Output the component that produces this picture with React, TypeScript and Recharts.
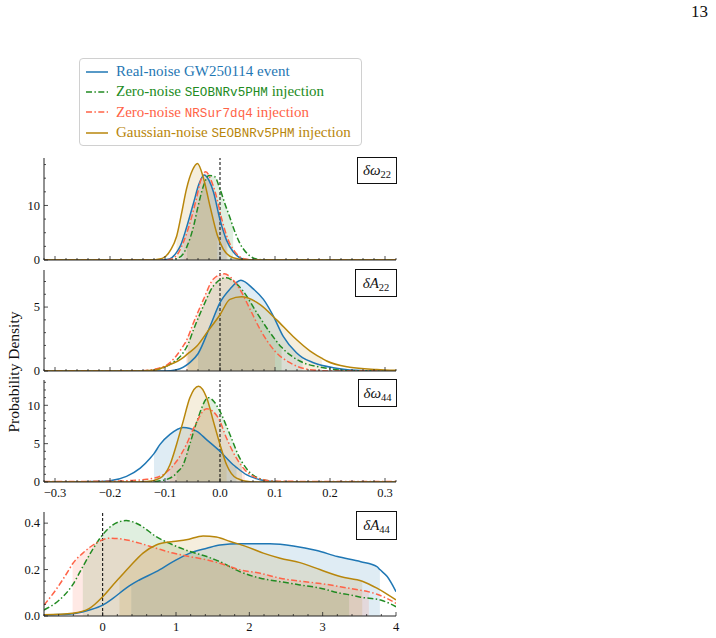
import React from "react"
import { Area, ComposedChart, Line, ReferenceLine, XAxis, YAxis } from "recharts"

type Pt = [number, number]

// ---- δω22 ----
const w22Blue: Pt[] = [[-0.32, 0], [-0.11, 0], [-0.092, 0.2], [-0.079, 1.4], [-0.072, 2.6], [-0.061, 5.9], [-0.048, 10.5], [-0.038, 14.0], [-0.029, 15.6], [-0.02, 14.6], [-0.012, 12.5], [0.0, 7.4], [0.012, 3.6], [0.024, 1.5], [0.042, 0.2], [0.06, 0], [0.32, 0]]
const w22Green: Pt[] = [[-0.32, 0], [-0.09, 0], [-0.078, 0.3], [-0.067, 1.1], [-0.06, 2.5], [-0.048, 6.2], [-0.04, 9.8], [-0.03, 13.6], [-0.02, 15.5], [-0.01, 15.3], [0.0, 13.0], [0.01, 10.0], [0.018, 7.8], [0.024, 6.0], [0.036, 3.1], [0.055, 0.7], [0.07, 0.1], [0.085, 0], [0.32, 0]]
const w22Red: Pt[] = [[-0.32, 0], [-0.1, 0], [-0.088, 0.2], [-0.075, 1.4], [-0.066, 3.4], [-0.057, 6.0], [-0.044, 10.8], [-0.035, 14.6], [-0.026, 16.2], [-0.017, 14.8], [-0.008, 12.2], [0.004, 7.2], [0.014, 3.9], [0.028, 1.4], [0.045, 0.2], [0.065, 0], [0.32, 0]]
const w22Gold: Pt[] = [[-0.32, 0], [-0.13, 0], [-0.105, 0.3], [-0.09, 1.8], [-0.079, 4.3], [-0.07, 8.5], [-0.061, 13.0], [-0.05, 16.5], [-0.041, 17.7], [-0.03, 15.0], [-0.018, 9.8], [-0.005, 4.6], [0.006, 2.0], [0.024, 0.4], [0.045, 0.05], [0.06, 0], [0.32, 0]]
const w22Ci = [[-0.072, 0.012], [-0.06, 0.024], [-0.066, 0.014], [-0.079, -0.005]]

// ---- δA22 ----
const a22Blue: Pt[] = [[-0.32, 0], [-0.1, 0], [-0.079, 0.1], [-0.055, 0.65], [-0.04, 1.35], [-0.018, 3.5], [0.0, 5.35], [0.018, 6.4], [0.038, 7.1], [0.061, 6.4], [0.079, 5.6], [0.097, 4.3], [0.115, 2.7], [0.139, 1.43], [0.15, 1.05], [0.17, 0.65], [0.206, 0.26], [0.248, 0.05], [0.28, 0], [0.32, 0]]
const a22Green: Pt[] = [[-0.32, 0], [-0.15, 0], [-0.115, 0.13], [-0.091, 0.52], [-0.067, 1.43], [-0.058, 2.1], [-0.048, 3.25], [-0.03, 5.1], [-0.012, 6.65], [0.012, 7.3], [0.025, 7.0], [0.042, 6.25], [0.067, 4.55], [0.091, 3.0], [0.112, 1.85], [0.145, 0.78], [0.188, 0.26], [0.224, 0.05], [0.26, 0], [0.32, 0]]
const a22Red: Pt[] = [[-0.32, 0], [-0.15, 0], [-0.115, 0.18], [-0.091, 0.65], [-0.067, 1.95], [-0.062, 2.3], [-0.048, 3.8], [-0.03, 5.6], [-0.012, 7.2], [0.008, 7.6], [0.02, 7.3], [0.036, 6.4], [0.055, 4.8], [0.073, 3.25], [0.1, 1.55], [0.127, 0.65], [0.164, 0.1], [0.2, 0], [0.32, 0]]
const a22Gold: Pt[] = [[-0.32, 0], [-0.15, 0], [-0.121, 0.05], [-0.097, 0.39], [-0.067, 1.04], [-0.06, 1.3], [-0.042, 1.95], [-0.024, 3.0], [0.0, 4.4], [0.018, 5.6], [0.039, 5.8], [0.073, 5.2], [0.103, 4.0], [0.133, 2.7], [0.164, 1.56], [0.185, 1.0], [0.194, 0.78], [0.236, 0.3], [0.285, 0.12], [0.32, 0.05]]
const a22Ci = [[-0.04, 0.15], [-0.058, 0.112], [-0.062, 0.1], [-0.06, 0.185]]

// ---- δω44 ----
const w44Blue: Pt[] = [[-0.32, 0], [-0.26, 0], [-0.23, 0.05], [-0.2, 0.17], [-0.17, 0.74], [-0.145, 1.8], [-0.127, 3.1], [-0.12, 3.7], [-0.109, 4.9], [-0.091, 6.2], [-0.067, 7.1], [-0.042, 6.6], [-0.024, 5.5], [0.0, 4.0], [0.024, 2.25], [0.03, 1.9], [0.048, 0.95], [0.073, 0.3], [0.097, 0.05], [0.12, 0], [0.32, 0]]
const w44Green: Pt[] = [[-0.32, 0], [-0.13, 0], [-0.109, 0.15], [-0.085, 0.74], [-0.079, 1.2], [-0.067, 2.25], [-0.055, 4.9], [-0.042, 7.9], [-0.021, 11.0], [-0.01, 10.4], [0.0, 9.2], [0.018, 6.2], [0.036, 3.1], [0.04, 2.6], [0.055, 1.2], [0.079, 0.3], [0.103, 0.05], [0.12, 0], [0.32, 0]]
const w44Red: Pt[] = [[-0.32, 0.08], [-0.25, 0.08], [-0.2, 0.1], [-0.16, 0.2], [-0.133, 0.35], [-0.103, 0.95], [-0.097, 1.3], [-0.079, 2.7], [-0.061, 4.9], [-0.048, 7.0], [-0.024, 9.55], [-0.003, 8.35], [0.012, 5.7], [0.03, 3.1], [0.045, 1.6], [0.073, 0.4], [0.103, 0.1], [0.15, 0.08], [0.32, 0.08]]
const w44Gold: Pt[] = [[-0.32, 0], [-0.15, 0], [-0.133, 0.05], [-0.109, 0.5], [-0.091, 2.25], [-0.079, 4.9], [-0.067, 7.9], [-0.055, 10.95], [-0.039, 12.5], [-0.024, 10.95], [-0.012, 7.9], [0.0, 4.9], [0.012, 2.25], [0.03, 0.5], [0.055, 0.03], [0.07, 0], [0.32, 0]]
const w44Ci = [[-0.12, 0.03], [-0.079, 0.04], [-0.097, 0.045], [-0.091, 0.012]]

// ---- δA44 ----
const a44Blue: Pt[] = [[-0.8, 0.005], [-0.59, 0.006], [-0.36, 0.012], [-0.18, 0.026], [0, 0.047], [0.14, 0.076], [0.32, 0.12], [0.39, 0.135], [0.5, 0.155], [0.73, 0.191], [0.96, 0.234], [1.19, 0.271], [1.42, 0.292], [1.6, 0.306], [1.87, 0.311], [2.28, 0.311], [2.6, 0.302], [2.92, 0.282], [3.2, 0.256], [3.52, 0.234], [3.74, 0.213], [3.78, 0.2], [3.88, 0.17], [4.0, 0.105]]
const a44Green: Pt[] = [[-0.8, 0.026], [-0.59, 0.069], [-0.41, 0.134], [-0.27, 0.213], [-0.14, 0.285], [0, 0.35], [0.14, 0.393], [0.32, 0.411], [0.5, 0.393], [0.73, 0.342], [0.96, 0.306], [1.19, 0.278], [1.42, 0.256], [1.6, 0.234], [1.87, 0.191], [2.15, 0.163], [2.42, 0.148], [2.69, 0.134], [2.97, 0.12], [3.24, 0.098], [3.36, 0.092], [3.52, 0.081], [3.79, 0.069], [4.0, 0.04]]
const a44Red: Pt[] = [[-0.8, 0.047], [-0.64, 0.112], [-0.46, 0.199], [-0.41, 0.225], [-0.27, 0.271], [-0.09, 0.314], [0.09, 0.335], [0.27, 0.331], [0.5, 0.314], [0.73, 0.292], [0.96, 0.271], [1.19, 0.256], [1.42, 0.242], [1.6, 0.227], [1.87, 0.199], [2.15, 0.184], [2.42, 0.163], [2.69, 0.15], [2.97, 0.14], [3.24, 0.126], [3.52, 0.111], [3.63, 0.104], [3.74, 0.094], [4.0, 0.055]]
const a44Gold: Pt[] = [[-0.8, 0.005], [-0.41, 0.012], [-0.18, 0.033], [0, 0.083], [0.18, 0.148], [0.23, 0.165], [0.37, 0.213], [0.55, 0.271], [0.73, 0.306], [0.96, 0.321], [1.14, 0.328], [1.37, 0.345], [1.55, 0.34], [1.74, 0.321], [1.96, 0.299], [2.19, 0.271], [2.42, 0.249], [2.69, 0.23], [2.97, 0.199], [3.24, 0.17], [3.54, 0.15], [3.74, 0.12], [4.0, 0.069]]
const a44Ci = [[0.39, 3.78], [-0.27, 3.36], [-0.41, 3.63], [0.23, 3.54]]

const SMALL_X_TICKS = [-0.3, -0.2, -0.1, 0, 0.1, 0.2, 0.3]
const A44_X_TICKS = [0, 1, 2, 3, 4]

const SERIES = [
  { name: "Real-noise", color: "#1f77b4", dash: undefined as string | undefined },
  { name: "Zero-noise SEOBNRv5PHM", color: "#228b22", dash: "6 2.4 1.5 2.4" },
  { name: "Zero-noise NRSur7dq4", color: "#ff6347", dash: "6 2.4 1.5 2.4" },
  { name: "Gaussian-noise SEOBNRv5PHM", color: "#b8860b", dash: undefined as string | undefined },
]

const SERIF = "'Liberation Serif', 'Times New Roman', serif"
const MONO = "'Liberation Mono', 'DejaVu Sans Mono', monospace"
const INK = "#222"

const steps = (d: number[], step: number) => {
  const out: number[] = []
  const a = Math.ceil(d[0] / step - 1e-9)
  const b = Math.floor(d[1] / step + 1e-9)
  for (let i = a; i <= b; i++) out.push(+(i * step).toFixed(6))
  return out
}

const fmtMinus = (digits: number) => (v: number) => {
  const s = Math.abs(v) < 1e-9 ? (0).toFixed(digits) : v.toFixed(digits)
  return s.replace("-", "\u2212")
}

function makeTick(side: string, majors: number[], fmt?: (v: number) => string) {
  return (props: any) => {
    const { x, y, payload } = props
    const v = payload.value
    const major = majors.some((m) => Math.abs(m - v) < 1e-6)
    const len = major ? 4 : 2
    let x2 = x
    let y2 = y
    if (side === "bottom") y2 = y - len
    if (side === "top") y2 = y + len
    if (side === "left") x2 = x + len
    if (side === "right") x2 = x - len
    const txt = { fontFamily: SERIF, fontSize: 12.5 }
    let label = null
    if (fmt && major) {
      label =
        side === "bottom" ? (
          <text x={x} y={y + 15} textAnchor="middle" style={txt} fill="#111">
            {fmt(v)}
          </text>
        ) : (
          <text x={x - 4} y={y + 4.3} textAnchor="end" style={txt} fill="#111">
            {fmt(v)}
          </text>
        )
    }
    return (
      <g>
        <line x1={x} y1={y} x2={x2} y2={y2} stroke={INK} strokeWidth={0.8} />
        {label}
      </g>
    )
  }
}

type PanelProps = {
  top: number
  bottom: number
  xDomain: number[]
  yDomain: number[]
  xMajors: number[]
  xMinor: number
  yMajors: number[]
  yMinor: number
  xFmt?: (v: number) => string
  yFmt: (v: number) => string
  curves: Pt[][]
  cis: number[][]
  label: React.ReactNode
  box: { left: number; top: number; width: number; height: number }
}

function Panel(p: PanelProps) {
  const h = p.bottom - p.top
  const xt = steps(p.xDomain, p.xMinor)
  const yt = steps(p.yDomain, p.yMinor)
  const axisLine = { stroke: INK, strokeWidth: 1 }
  const toObj = (pts: Pt[]) => pts.map(([x, y]) => ({ x, y }))
  return (
    <>
      <div style={{ position: "absolute", left: 0, top: p.top - 2 }}>
        <ComposedChart width={400} height={h + 24} margin={{ top: 2, right: 4, bottom: 0, left: 0 }}>
          <XAxis xAxisId="b" type="number" dataKey="x" domain={p.xDomain} allowDataOverflow ticks={xt} interval={0}
            tickSize={0} tickMargin={0} tickLine={false} axisLine={axisLine} height={22}
            tick={makeTick("bottom", p.xMajors, p.xFmt)} />
          <XAxis xAxisId="t" orientation="top" type="number" dataKey="x" domain={p.xDomain} allowDataOverflow ticks={xt}
            interval={0} tickSize={0} tickMargin={0} tickLine={false} axisLine={axisLine} height={0}
            tick={makeTick("top", p.xMajors)} />
          <YAxis yAxisId="l" type="number" domain={p.yDomain} allowDataOverflow ticks={yt} interval={0}
            tickSize={0} tickMargin={0} tickLine={false} axisLine={axisLine} width={44}
            tick={makeTick("left", p.yMajors, p.yFmt)} />
          <YAxis yAxisId="r" orientation="right" type="number" domain={p.yDomain} allowDataOverflow ticks={yt}
            interval={0} tickSize={0} tickMargin={0} tickLine={false} axisLine={axisLine} width={0}
            tick={makeTick("right", p.yMajors)} />
          {p.curves.map((pts, i) => (
            <Area key={"a" + i} xAxisId="b" yAxisId="l" type="monotone" dataKey="y"
              data={toObj(pts.filter(([x]) => x >= p.cis[i][0] - 1e-9 && x <= p.cis[i][1] + 1e-9))}
              stroke="none" fill={SERIES[i].color} fillOpacity={0.14} isAnimationActive={false} />
          ))}
          <ReferenceLine xAxisId="b" yAxisId="l" x={0} stroke="#000" strokeWidth={1} strokeDasharray="3 2" />
          {p.curves.map((pts, i) => (
            <Line key={"l" + i} xAxisId="b" yAxisId="l" type="monotone" dataKey="y" data={toObj(pts)}
              stroke={SERIES[i].color} strokeWidth={1.5} strokeDasharray={SERIES[i].dash} dot={false}
              activeDot={false} isAnimationActive={false} />
          ))}
        </ComposedChart>
      </div>
      <div style={{
        position: "absolute", left: p.box.left, top: p.box.top, width: p.box.width, height: p.box.height,
        boxSizing: "border-box", border: "1.2px solid #111", background: "#fff", display: "flex",
        alignItems: "center", justifyContent: "center", fontFamily: SERIF, fontSize: 15, color: "#111",
      }}>
        {p.label}
      </div>
    </>
  )
}

const Lab = ({ sym, sub }: { sym: string; sub: string }) => (
  <span>
    <i>{sym}</i>
    <span style={{ fontSize: 10.5, position: "relative", top: 3 }}>{sub}</span>
  </span>
)

const legendRows = [
  { pre: "Real-noise GW250114 event", mono: "", post: "" },
  { pre: "Zero-noise ", mono: "SEOBNRv5PHM", post: " injection" },
  { pre: "Zero-noise ", mono: "NRSur7dq4", post: " injection" },
  { pre: "Gaussian-noise ", mono: "SEOBNRv5PHM", post: " injection" },
]

export default function App() {
  return (
    <div style={{ position: "absolute", left: 0, top: 0, width: 716, height: 638, background: "#fff", overflow: "hidden" }}>
      <div style={{ position: "absolute", left: 691, top: 2, fontFamily: SERIF, fontSize: 17, color: "#111" }}>13</div>

      <div style={{
        position: "absolute", left: 79, top: 58, width: 283, height: 88, boxSizing: "border-box",
        border: "1px solid #d0d0d0", borderRadius: 4, background: "#fff",
      }}>
        {legendRows.map((r, i) => (
          <div key={i} style={{ position: "absolute", left: 0, top: 2.5 + i * 20.4, height: 20, display: "flex", alignItems: "center", whiteSpace: "nowrap" }}>
            <svg width={36} height={20} style={{ display: "block" }}>
              <line x1={6} x2={28} y1={10} y2={10} stroke={SERIES[i].color} strokeWidth={1.5} strokeDasharray={SERIES[i].dash} />
            </svg>
            <span style={{ fontFamily: SERIF, fontSize: 15, color: SERIES[i].color }}>
              {r.pre}
              {r.mono && <span style={{ fontFamily: MONO, fontSize: 12.6 }}>{r.mono}</span>}
              {r.post}
            </span>
          </div>
        ))}
      </div>

      <div style={{
        position: "absolute", left: 14 - 100, top: 372 - 10, width: 200, height: 20, lineHeight: "20px",
        textAlign: "center", transform: "rotate(-90deg)", fontFamily: SERIF, fontSize: 15.5, color: "#111",
      }}>
        Probability Density
      </div>

      <Panel top={158} bottom={260} xDomain={[-0.32, 0.32]} yDomain={[0, 18.7]} xMajors={SMALL_X_TICKS} xMinor={0.02}
        yMajors={[0, 10]} yMinor={2.5} yFmt={fmtMinus(0)} curves={[w22Blue, w22Green, w22Red, w22Gold]} cis={w22Ci}
        label={<Lab sym="δω" sub="22" />} box={{ left: 357, top: 157, width: 40, height: 27 }} />
      <Panel top={270} bottom={371} xDomain={[-0.32, 0.32]} yDomain={[0, 7.9]} xMajors={SMALL_X_TICKS} xMinor={0.02}
        yMajors={[0, 5]} yMinor={1} yFmt={fmtMinus(0)} curves={[a22Blue, a22Green, a22Red, a22Gold]} cis={a22Ci}
        label={<Lab sym="δA" sub="22" />} box={{ left: 355, top: 269, width: 42, height: 28 }} />
      <Panel top={380} bottom={482} xDomain={[-0.32, 0.32]} yDomain={[0, 13.3]} xMajors={SMALL_X_TICKS} xMinor={0.02}
        xFmt={fmtMinus(1)} yMajors={[0, 5, 10]} yMinor={1} yFmt={fmtMinus(0)} curves={[w44Blue, w44Green, w44Red, w44Gold]}
        cis={w44Ci} label={<Lab sym="δω" sub="44" />} box={{ left: 358, top: 379, width: 39, height: 28 }} />
      <Panel top={512} bottom={616} xDomain={[-0.8, 4]} yDomain={[0, 0.448]} xMajors={A44_X_TICKS} xMinor={0.2}
        xFmt={fmtMinus(0)} yMajors={[0, 0.2, 0.4]} yMinor={0.05} yFmt={fmtMinus(1)} curves={[a44Blue, a44Green, a44Red, a44Gold]}
        cis={a44Ci} label={<Lab sym="δA" sub="44" />} box={{ left: 356, top: 511, width: 41, height: 29 }} />
    </div>
  )
}
